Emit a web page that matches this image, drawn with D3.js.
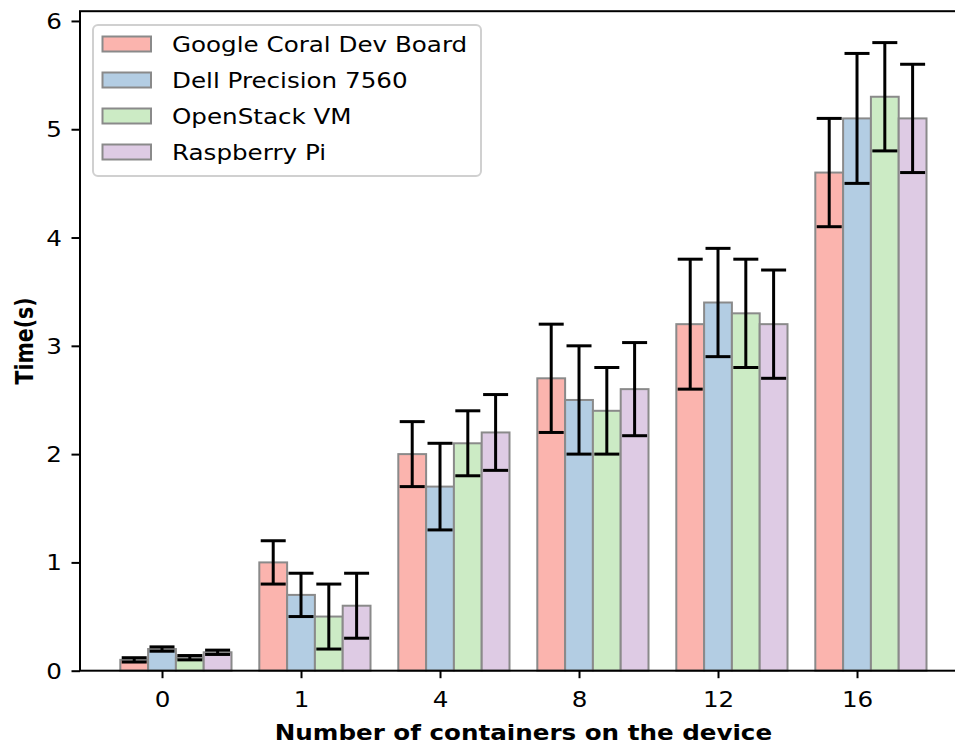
<!DOCTYPE html>
<html>
<head>
<meta charset="utf-8">
<script src="https://cdn.jsdelivr.net/npm/d3@7"></script>
<style>
  html, body { margin: 0; padding: 0; background: #ffffff; }
  svg { display: block; }
  text { font-family: "DejaVu Sans", sans-serif; fill: #000; }
</style>
</head>
<body>
<svg id="chart" width="955" height="744"></svg>
<script>
// Container-count groups on the x axis
const categories = ["0", "1", "4", "8", "12", "16"];

// Devices (one bar per device in each group)
const devices = ["Google Coral Dev Board", "Dell Precision 7560", "OpenStack VM", "Raspberry Pi"];
const colors = ["#fbb4ae", "#b3cde3", "#ccebc5", "#decbe4"];

// Mean time (s) per device, one value per category
const coralMean     = [0.10, 1.0, 2.0, 2.7, 3.2, 4.6];
const dellMean      = [0.20, 0.7, 1.7, 2.5, 3.4, 5.1];
const openstackMean = [0.12, 0.5, 2.1, 2.4, 3.3, 5.3];
const piMean        = [0.17, 0.6, 2.2, 2.6, 3.2, 5.1];

// Standard deviation (s) per device
const coralErr     = [0.02, 0.2, 0.3, 0.5, 0.6, 0.5];
const dellErr      = [0.02, 0.2, 0.4, 0.5, 0.5, 0.6];
const openstackErr = [0.02, 0.3, 0.3, 0.4, 0.5, 0.5];
const piErr        = [0.02, 0.3, 0.35, 0.43, 0.5, 0.5];

const yTicks = [0, 1, 2, 3, 4, 5, 6];

const means = [coralMean, dellMean, openstackMean, piMean];
const errs  = [coralErr, dellErr, openstackErr, piErr];

const barWidth = 0.2;          // in category units
const fontPx = 20.5;           // glyph height
const SX = 1.2;                // horizontal text stretch

const svg = d3.select("#chart");

// Plot frame
const plotLeft = 80, plotTop = 11.2, plotBottom = 670.7;
const unitPx = 139;

// x limits: bar extents plus 5% padding
const xMinData = -1.5 * barWidth;
const xMaxData = (categories.length - 1) + 2.5 * barWidth;
const xPad = 0.05 * (xMaxData - xMinData);
const xDomain = [xMinData - xPad, xMaxData + xPad];
const plotRight = plotLeft + (xDomain[1] - xDomain[0]) * unitPx;

const x = d3.scaleLinear().domain(xDomain).range([plotLeft, plotRight]);

// y limits: top of highest error bar plus 5%
const yMaxData = d3.max(means.flatMap((m, s) => m.map((v, i) => v + errs[s][i])));
const y = d3.scaleLinear().domain([0, yMaxData * 1.05]).range([plotBottom, plotTop]);

// Bars
const barData = [];
means.forEach((m, s) => m.forEach((v, i) => {
  barData.push({ s, i, v, e: errs[s][i], cx: i + (s - 1) * barWidth });
}));

const barsG = svg.append("g");
barsG.selectAll("rect")
  .data(barData)
  .join("rect")
  .attr("x", d => x(d.cx - barWidth / 2))
  .attr("width", d => x(d.cx + barWidth / 2) - x(d.cx - barWidth / 2))
  .attr("y", d => y(d.v))
  .attr("height", d => y(0) - y(d.v))
  .attr("fill", d => colors[d.s])
  .attr("stroke", "#8a8a8a")
  .attr("stroke-width", 2);

// Error bars
const errG = svg.append("g").attr("stroke", "#000").attr("stroke-width", 3);
const capHalf = 12.5;
barData.forEach(d => {
  const cx = x(d.cx);
  const y1 = y(d.v + d.e), y0 = y(d.v - d.e);
  errG.append("line").attr("x1", cx).attr("x2", cx).attr("y1", y1).attr("y2", y0);
  errG.append("line").attr("x1", cx - capHalf).attr("x2", cx + capHalf).attr("y1", y1).attr("y2", y1);
  errG.append("line").attr("x1", cx - capHalf).attr("x2", cx + capHalf).attr("y1", y0).attr("y2", y0);
});

// Axes
const xAxis = d3.axisBottom(x)
  .tickValues(d3.range(categories.length))
  .tickFormat(i => categories[i])
  .tickSize(7.5)
  .tickSizeOuter(0);

const yAxis = d3.axisLeft(y)
  .tickValues(yTicks)
  .tickFormat(d3.format("d"))
  .tickSize(8.5)
  .tickSizeOuter(0);

const gx = svg.append("g").attr("transform", `translate(0,${plotBottom})`).call(xAxis);
const gy = svg.append("g").attr("transform", `translate(${plotLeft},0)`).call(yAxis);

[gx, gy].forEach(g => {
  g.select(".domain").remove();
  g.selectAll(".tick line").attr("stroke", "#000").attr("stroke-width", 2);
  g.selectAll(".tick text")
    .attr("font-size", fontPx)
    .attr("font-family", "DejaVu Sans")
    .attr("fill", "#000");
});
gx.selectAll(".tick text")
  .attr("y", 0).attr("dy", 0)
  .attr("transform", "translate(0,36) scale(" + SX + ",1)");
gy.selectAll(".tick text")
  .attr("x", 0).attr("dy", 0)
  .attr("transform", "translate(-18,7.5) scale(" + SX + ",1)");

// Spines
const spines = svg.append("g").attr("stroke", "#000").attr("stroke-width", 2).attr("fill", "none");
spines.append("rect")
  .attr("x", plotLeft).attr("y", plotTop)
  .attr("width", plotRight - plotLeft).attr("height", plotBottom - plotTop);

// Axis titles
svg.append("text")
  .attr("transform", `translate(${(plotLeft + plotRight) / 2},740) scale(${SX},1)`)
  .attr("text-anchor", "middle")
  .attr("font-size", fontPx)
  .attr("font-weight", "bold")
  .text("Number of containers on the device");

svg.append("text")
  .attr("transform", `translate(33,${(plotTop + plotBottom) / 2}) scale(${SX},1) rotate(-90)`)
  .attr("text-anchor", "middle")
  .attr("font-size", fontPx)
  .attr("font-weight", "bold")
  .text("Time(s)");

// Legend
const legend = svg.append("g");
const lgX = 93, lgY = 25, lgW = 388, lgH = 151;
legend.append("rect")
  .attr("x", lgX).attr("y", lgY)
  .attr("width", lgW).attr("height", lgH)
  .attr("rx", 5).attr("ry", 5)
  .attr("fill", "#ffffff").attr("fill-opacity", 0.8)
  .attr("stroke", "#d0d0d0").attr("stroke-width", 2);

const rowY = d3.scaleLinear().domain([0, devices.length - 1]).range([44, 152]);
devices.forEach((name, s) => {
  const cy = rowY(s);
  legend.append("rect")
    .attr("x", 102.5).attr("y", cy - 7.5)
    .attr("width", 48.5).attr("height", 15)
    .attr("fill", colors[s])
    .attr("stroke", "#8a8a8a").attr("stroke-width", 2);
  legend.append("text")
    .attr("transform", `translate(172,${cy + 7.5}) scale(${SX},1)`)
    .attr("font-size", fontPx)
    .text(name);
});
</script>
</body>
</html>
